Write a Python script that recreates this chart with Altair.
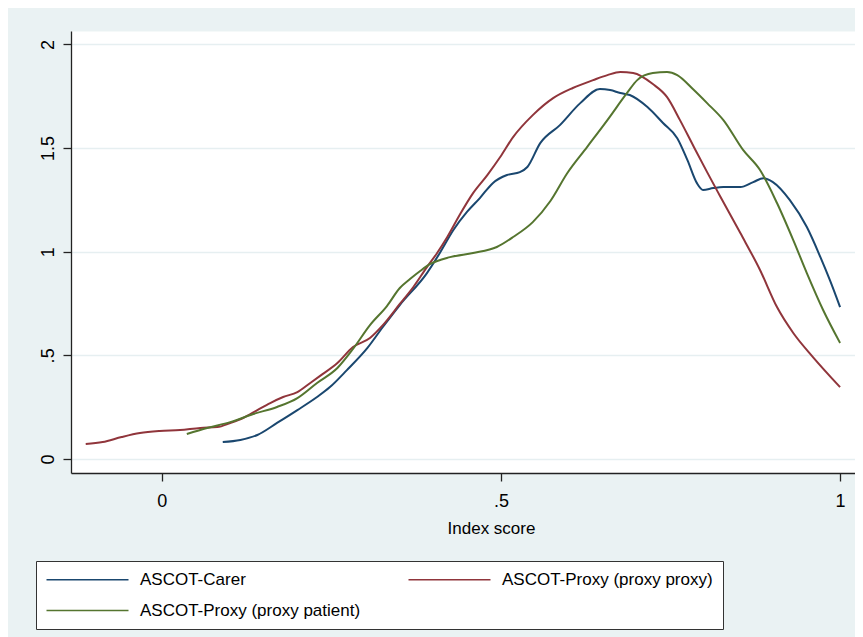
import altair as alt
import pandas as pd

series_names = ["ASCOT-Carer", "ASCOT-Proxy (proxy proxy)", "ASCOT-Proxy (proxy patient)"]
series_colors = ["#1A476F", "#90353B", "#55752F"]

carer_x = [0.090, 0.116, 0.141, 0.170, 0.200, 0.229, 0.248, 0.273, 0.303, 0.326, 0.351, 0.391,
           0.410, 0.430, 0.450, 0.469, 0.488, 0.509, 0.528, 0.539, 0.558, 0.587, 0.617, 0.646,
           0.661, 0.676, 0.690, 0.716, 0.739, 0.760, 0.775, 0.789, 0.798, 0.813, 0.828, 0.853,
           0.872, 0.887, 0.901, 0.926, 0.951, 0.971, 0.985, 1.000]
carer_y = [0.082, 0.092, 0.116, 0.174, 0.236, 0.299, 0.347, 0.429, 0.535, 0.637, 0.743, 0.897,
           0.994, 1.105, 1.192, 1.259, 1.331, 1.370, 1.384, 1.409, 1.524, 1.611, 1.717, 1.785,
           1.780, 1.766, 1.756, 1.698, 1.621, 1.548, 1.442, 1.331, 1.298, 1.307, 1.312, 1.312,
           1.336, 1.355, 1.336, 1.249, 1.119, 0.974, 0.863, 0.733]

proxy_x = [-0.112, -0.087, -0.059, -0.032, -0.003, 0.027, 0.057, 0.082, 0.101, 0.120, 0.141,
           0.160, 0.179, 0.200, 0.219, 0.233, 0.259, 0.282, 0.307, 0.326, 0.351, 0.371, 0.391,
           0.406, 0.421, 0.440, 0.459, 0.480, 0.499, 0.518, 0.547, 0.577, 0.606, 0.636, 0.657,
           0.676, 0.695, 0.724, 0.745, 0.764, 0.783, 0.804, 0.823, 0.853, 0.882, 0.907, 0.931,
           0.960, 1.000]
proxy_y = [0.072, 0.082, 0.106, 0.125, 0.135, 0.140, 0.150, 0.154, 0.174, 0.198, 0.236,
           0.270, 0.299, 0.323, 0.367, 0.400, 0.463, 0.540, 0.584, 0.646, 0.748, 0.830, 0.926,
           0.994, 1.071, 1.182, 1.283, 1.370, 1.457, 1.553, 1.659, 1.741, 1.790, 1.828, 1.852,
           1.867, 1.862, 1.809, 1.746, 1.635, 1.515, 1.384, 1.269, 1.090, 0.912, 0.733, 0.608,
           0.492, 0.347]

patient_x = [0.037, 0.067, 0.101, 0.135, 0.170, 0.200, 0.229, 0.259, 0.282, 0.307, 0.332,
             0.351, 0.366, 0.381, 0.396, 0.425, 0.459, 0.494, 0.518, 0.547, 0.573, 0.598,
             0.627, 0.657, 0.686, 0.701, 0.724, 0.745, 0.760, 0.783, 0.804, 0.828, 0.857,
             0.882, 0.907, 0.931, 0.951, 0.975, 1.000]
patient_y = [0.121, 0.150, 0.178, 0.217, 0.251, 0.294, 0.367, 0.439, 0.531, 0.646, 0.738,
             0.825, 0.868, 0.907, 0.941, 0.974, 0.994, 1.023, 1.071, 1.143, 1.245, 1.380,
             1.505, 1.635, 1.766, 1.828, 1.862, 1.867, 1.852, 1.785, 1.717, 1.635, 1.491,
             1.394, 1.235, 1.056, 0.897, 0.719, 0.560]

x_ticks = [0, 0.5, 1]
y_ticks = [0, 0.5, 1, 1.5, 2]

rows = []
for name, xs, ys in [(series_names[0], carer_x, carer_y),
                     (series_names[1], proxy_x, proxy_y),
                     (series_names[2], patient_x, patient_y)]:
    for xv, yv in zip(xs, ys):
        rows.append({"series": name, "x": xv, "y": yv})
df = pd.DataFrame(rows)

FONT = "Liberation Sans"
label_expr = "datum.value == 0.5 ? '.5' : '' + datum.value"

chart = alt.Chart(df).mark_line(strokeWidth=2, interpolate="monotone").encode(
    x=alt.X("x:Q",
            scale=alt.Scale(domain=[-0.1337, 1.022], nice=False, zero=False),
            axis=alt.Axis(values=x_ticks, labelExpr=label_expr, title="Index score",
                          grid=False, tickSize=8, labelPadding=11, labelFlush=False,
                          labelFont=FONT, labelFontSize=18, labelColor="#000",
                          titleFont=FONT, titleFontSize=17, titleFontWeight="normal",
                          titleColor="#000", titleX=420, titleY=60,
                          titleBaseline="alphabetic", titleAlign="center",
                          domainColor="#222", domainWidth=1.3,
                          tickColor="#222", tickWidth=1.3)),
    y=alt.Y("y:Q",
            scale=alt.Scale(domain=[-0.0675, 2.065], nice=False, zero=False),
            axis=alt.Axis(values=y_ticks, labelExpr=label_expr, title=None,
                          grid=True, gridColor="#E6EFF1", gridWidth=1.6,
                          tickSize=8, labelPadding=10, labelAngle=270,
                          labelAlign="center", labelBaseline="alphabetic",
                          labelFlush=False,
                          labelFont=FONT, labelFontSize=18, labelColor="#000",
                          domainColor="#222", domainWidth=1.3,
                          tickColor="#222", tickWidth=1.3)),
    color=alt.Color("series:N",
                    scale=alt.Scale(domain=series_names, range=series_colors),
                    legend=alt.Legend(title=None, orient="none", legendX=-35, legendY=530,
                                      columns=2, direction="horizontal",
                                      symbolType="M-1.6,0H14.8", symbolSize=100,
                                      symbolStrokeWidth=1.5, labelOffset=77,
                                      labelFont=FONT, labelFontSize=17, labelColor="#000",
                                      labelLimit=400, columnPadding=44, rowPadding=13,
                                      padding=10, fillColor="white", strokeColor="#333")),
).properties(
    width=784,
    height=442,
    autosize=alt.AutoSizeParams(type="none"),
    padding={"left": 63, "top": 23, "right": 0, "bottom": 164},
    background="#EAF2F3",
).configure_view(fill="white", stroke="transparent")

chart.save("out.html", embed_options={"renderer": "svg", "actions": False})
